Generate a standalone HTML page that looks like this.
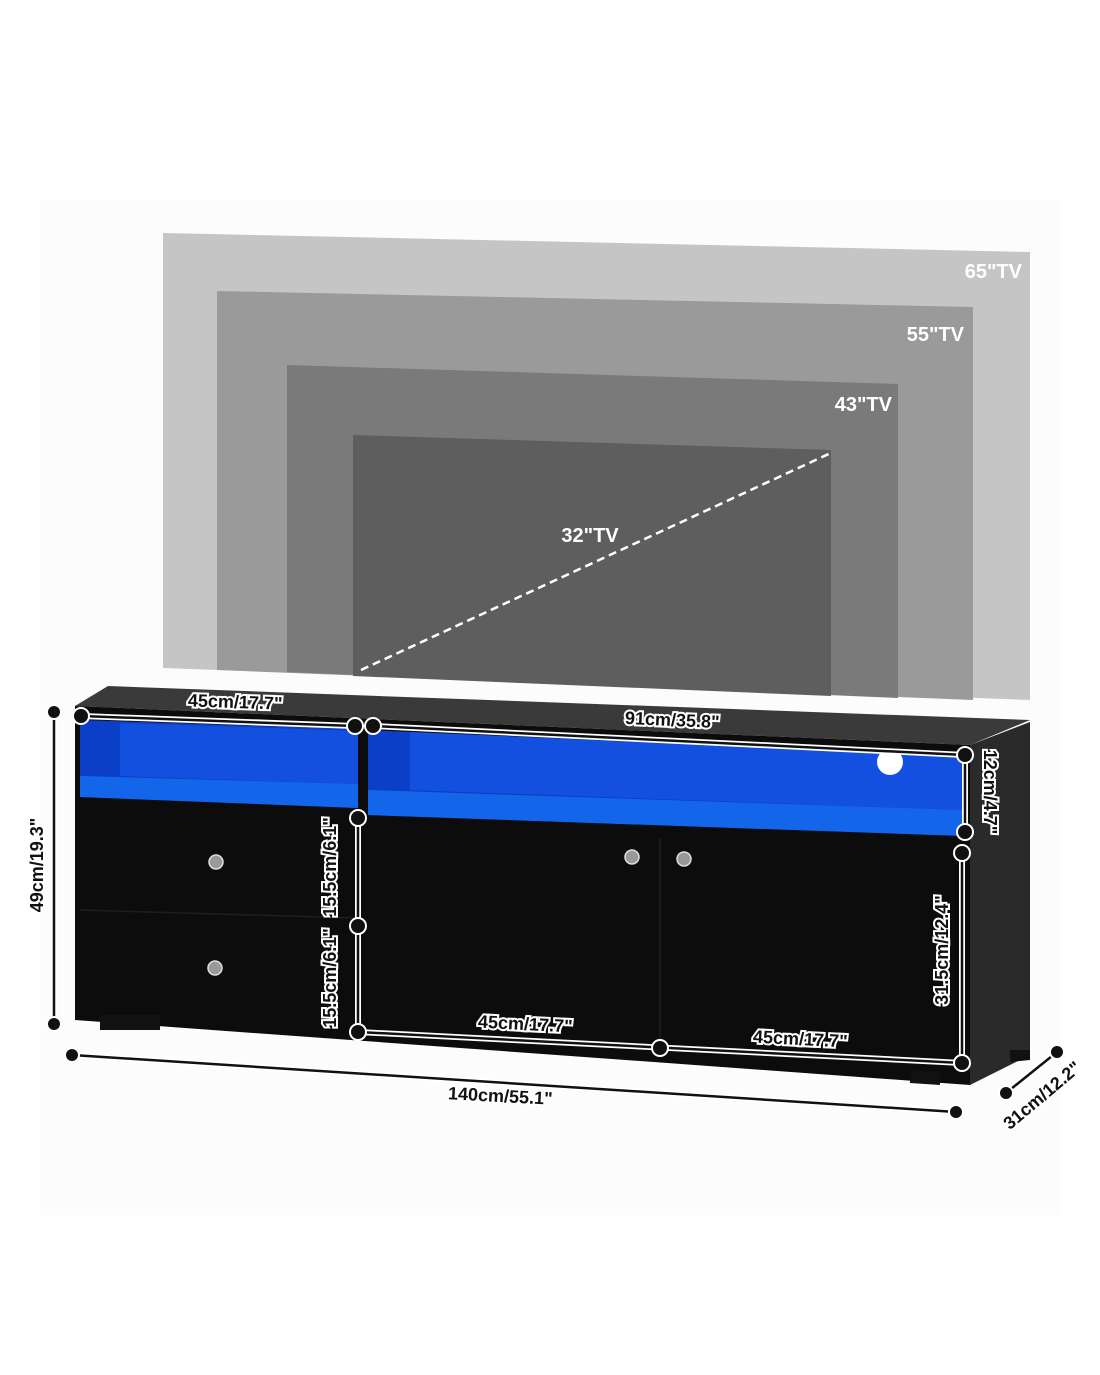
<!DOCTYPE html>
<html><head><meta charset="utf-8"><style>
html,body{margin:0;padding:0;background:#fff;}
svg{display:block;}
text{font-family:"Liberation Sans",sans-serif;font-weight:bold;}
.lbl{fill:#111;stroke:#fff;stroke-width:4px;paint-order:stroke;font-size:18px;}
.tv{fill:#fff;font-size:20px;}
</style></head><body>
<svg width="1100" height="1375" viewBox="0 0 1100 1375">
<rect x="40" y="200" width="1020" height="1015" fill="#fcfcfc"/>
<!-- TVs -->
<polygon points="163,233 1030,252 1030,700 163,668" fill="#c5c5c5"/>
<polygon points="217,291 973,307 973,700 217,670" fill="#9a9a9a"/>
<polygon points="287,365 898,384 898,698 287,672" fill="#7a7a7a"/>
<polygon points="353,435 831,450 831,696 353,676" fill="#5e5e5e"/>
<line x1="361" y1="670" x2="833" y2="452" stroke="#fff" stroke-width="2.5" stroke-dasharray="8,5"/>
<text class="tv" x="1022" y="278" text-anchor="end">65"TV</text>
<text class="tv" x="964" y="341" text-anchor="end">55"TV</text>
<text class="tv" x="892" y="411" text-anchor="end">43"TV</text>
<text class="tv" x="590" y="542" text-anchor="middle">32"TV</text>
<!-- cabinet -->
<polygon points="75,706 108,686 1030,720 970,745" fill="#3a3a3a"/>
<polygon points="970,745 1030,722 1030,1055 970,1085" fill="#2a2a2a"/>
<polygon points="75,706 970,745 970,1085 75,1020" fill="#0c0c0c"/>
<rect x="100" y="1015" width="60" height="15" fill="#111"/>
<polygon points="910,1070 940,1072 940,1085 910,1083" fill="#111"/>
<polygon points="1010,1050 1030,1050 1030,1060 1010,1062" fill="#111"/>
<!-- blue compartments -->
<polygon points="80,720 358,729 358,808 80,797" fill="#0c3fc8"/>
<polygon points="120,723 358,731 358,784 120,776" fill="#1450e0"/>
<polygon points="80,776 358,784 358,808 80,797" fill="#1366ea"/>
<polygon points="368,730 963,756 963,836 368,815" fill="#0c3fc8"/>
<polygon points="410,732 963,757 963,810 410,790" fill="#1450e0"/>
<polygon points="368,790 963,810 963,836 368,815" fill="#1366ea"/>
<circle cx="890" cy="762" r="13" fill="#fff"/>
<line x1="80" y1="910" x2="356" y2="918" stroke="#1e1e1e" stroke-width="1.5"/>
<line x1="660" y1="838" x2="660" y2="1048" stroke="#1e1e1e" stroke-width="1.5"/>
<!-- knobs -->
<g fill="#999" stroke="#ddd" stroke-width="1.5">
<circle cx="216" cy="862" r="7"/><circle cx="215" cy="968" r="7"/>
<circle cx="632" cy="857" r="7"/><circle cx="684" cy="859" r="7"/></g>
<!-- dimension lines -->
<g stroke="#fff" stroke-width="6" fill="none">
<line x1="54" y1="712" x2="54" y2="1024"/>
<line x1="72" y1="1055" x2="956" y2="1112"/>
<line x1="1057" y1="1052" x2="1006" y2="1093"/>
<line x1="81" y1="716" x2="355" y2="726"/>
<line x1="373" y1="726" x2="965" y2="755"/>
<line x1="965" y1="755" x2="965" y2="832"/>
<line x1="962" y1="853" x2="962" y2="1063"/>
<line x1="358" y1="818" x2="358" y2="1032"/>
<line x1="358" y1="1032" x2="962" y2="1063"/>
</g>
<g stroke="#111" stroke-width="2.5" fill="none">
<line x1="54" y1="712" x2="54" y2="1024"/>
<line x1="72" y1="1055" x2="956" y2="1112"/>
<line x1="1057" y1="1052" x2="1006" y2="1093"/>
<line x1="81" y1="716" x2="355" y2="726"/>
<line x1="373" y1="726" x2="965" y2="755"/>
<line x1="965" y1="755" x2="965" y2="832"/>
<line x1="962" y1="853" x2="962" y2="1063"/>
<line x1="358" y1="818" x2="358" y2="1032"/>
<line x1="358" y1="1032" x2="962" y2="1063"/>
</g>
<g fill="#111" stroke="#fff" stroke-width="2">
<circle cx="54" cy="712" r="7"/><circle cx="54" cy="1024" r="7"/>
<circle cx="72" cy="1055" r="7"/><circle cx="956" cy="1112" r="7"/>
<circle cx="1057" cy="1052" r="7"/><circle cx="1006" cy="1093" r="7"/>
<circle cx="81" cy="716" r="8"/><circle cx="355" cy="726" r="8"/>
<circle cx="373" cy="726" r="8"/><circle cx="965" cy="755" r="8"/>
<circle cx="965" cy="832" r="8"/><circle cx="962" cy="853" r="8"/>
<circle cx="962" cy="1063" r="8"/><circle cx="358" cy="818" r="8"/>
<circle cx="358" cy="926" r="8"/><circle cx="358" cy="1032" r="8"/>
<circle cx="660" cy="1048" r="8"/>
</g>
<!-- labels -->
<text class="lbl" transform="translate(235,708) rotate(2)" text-anchor="middle">45cm/17.7"</text>
<text class="lbl" transform="translate(672,726) rotate(2.5)" text-anchor="middle">91cm/35.8"</text>
<text class="lbl" transform="translate(984,792) rotate(90)" text-anchor="middle">12cm/4.7"</text>
<text class="lbl" transform="translate(948,950) rotate(-90)" text-anchor="middle">31.5cm/12.4"</text>
<text class="lbl" transform="translate(336,867) rotate(-90)" text-anchor="middle">15.5cm/6.1"</text>
<text class="lbl" transform="translate(336,978) rotate(-90)" text-anchor="middle">15.5cm/6.1"</text>
<text class="lbl" transform="translate(525,1030) rotate(3)" text-anchor="middle">45cm/17.7"</text>
<text class="lbl" transform="translate(800,1045) rotate(3)" text-anchor="middle">45cm/17.7"</text>
<text class="lbl" transform="translate(500,1102) rotate(3)" text-anchor="middle">140cm/55.1"</text>
<text class="lbl" transform="translate(43,865) rotate(-90)" text-anchor="middle">49cm/19.3"</text>
<text class="lbl" transform="translate(1046,1100) rotate(-40)" text-anchor="middle">31cm/12.2"</text>
</svg>
</body></html>
